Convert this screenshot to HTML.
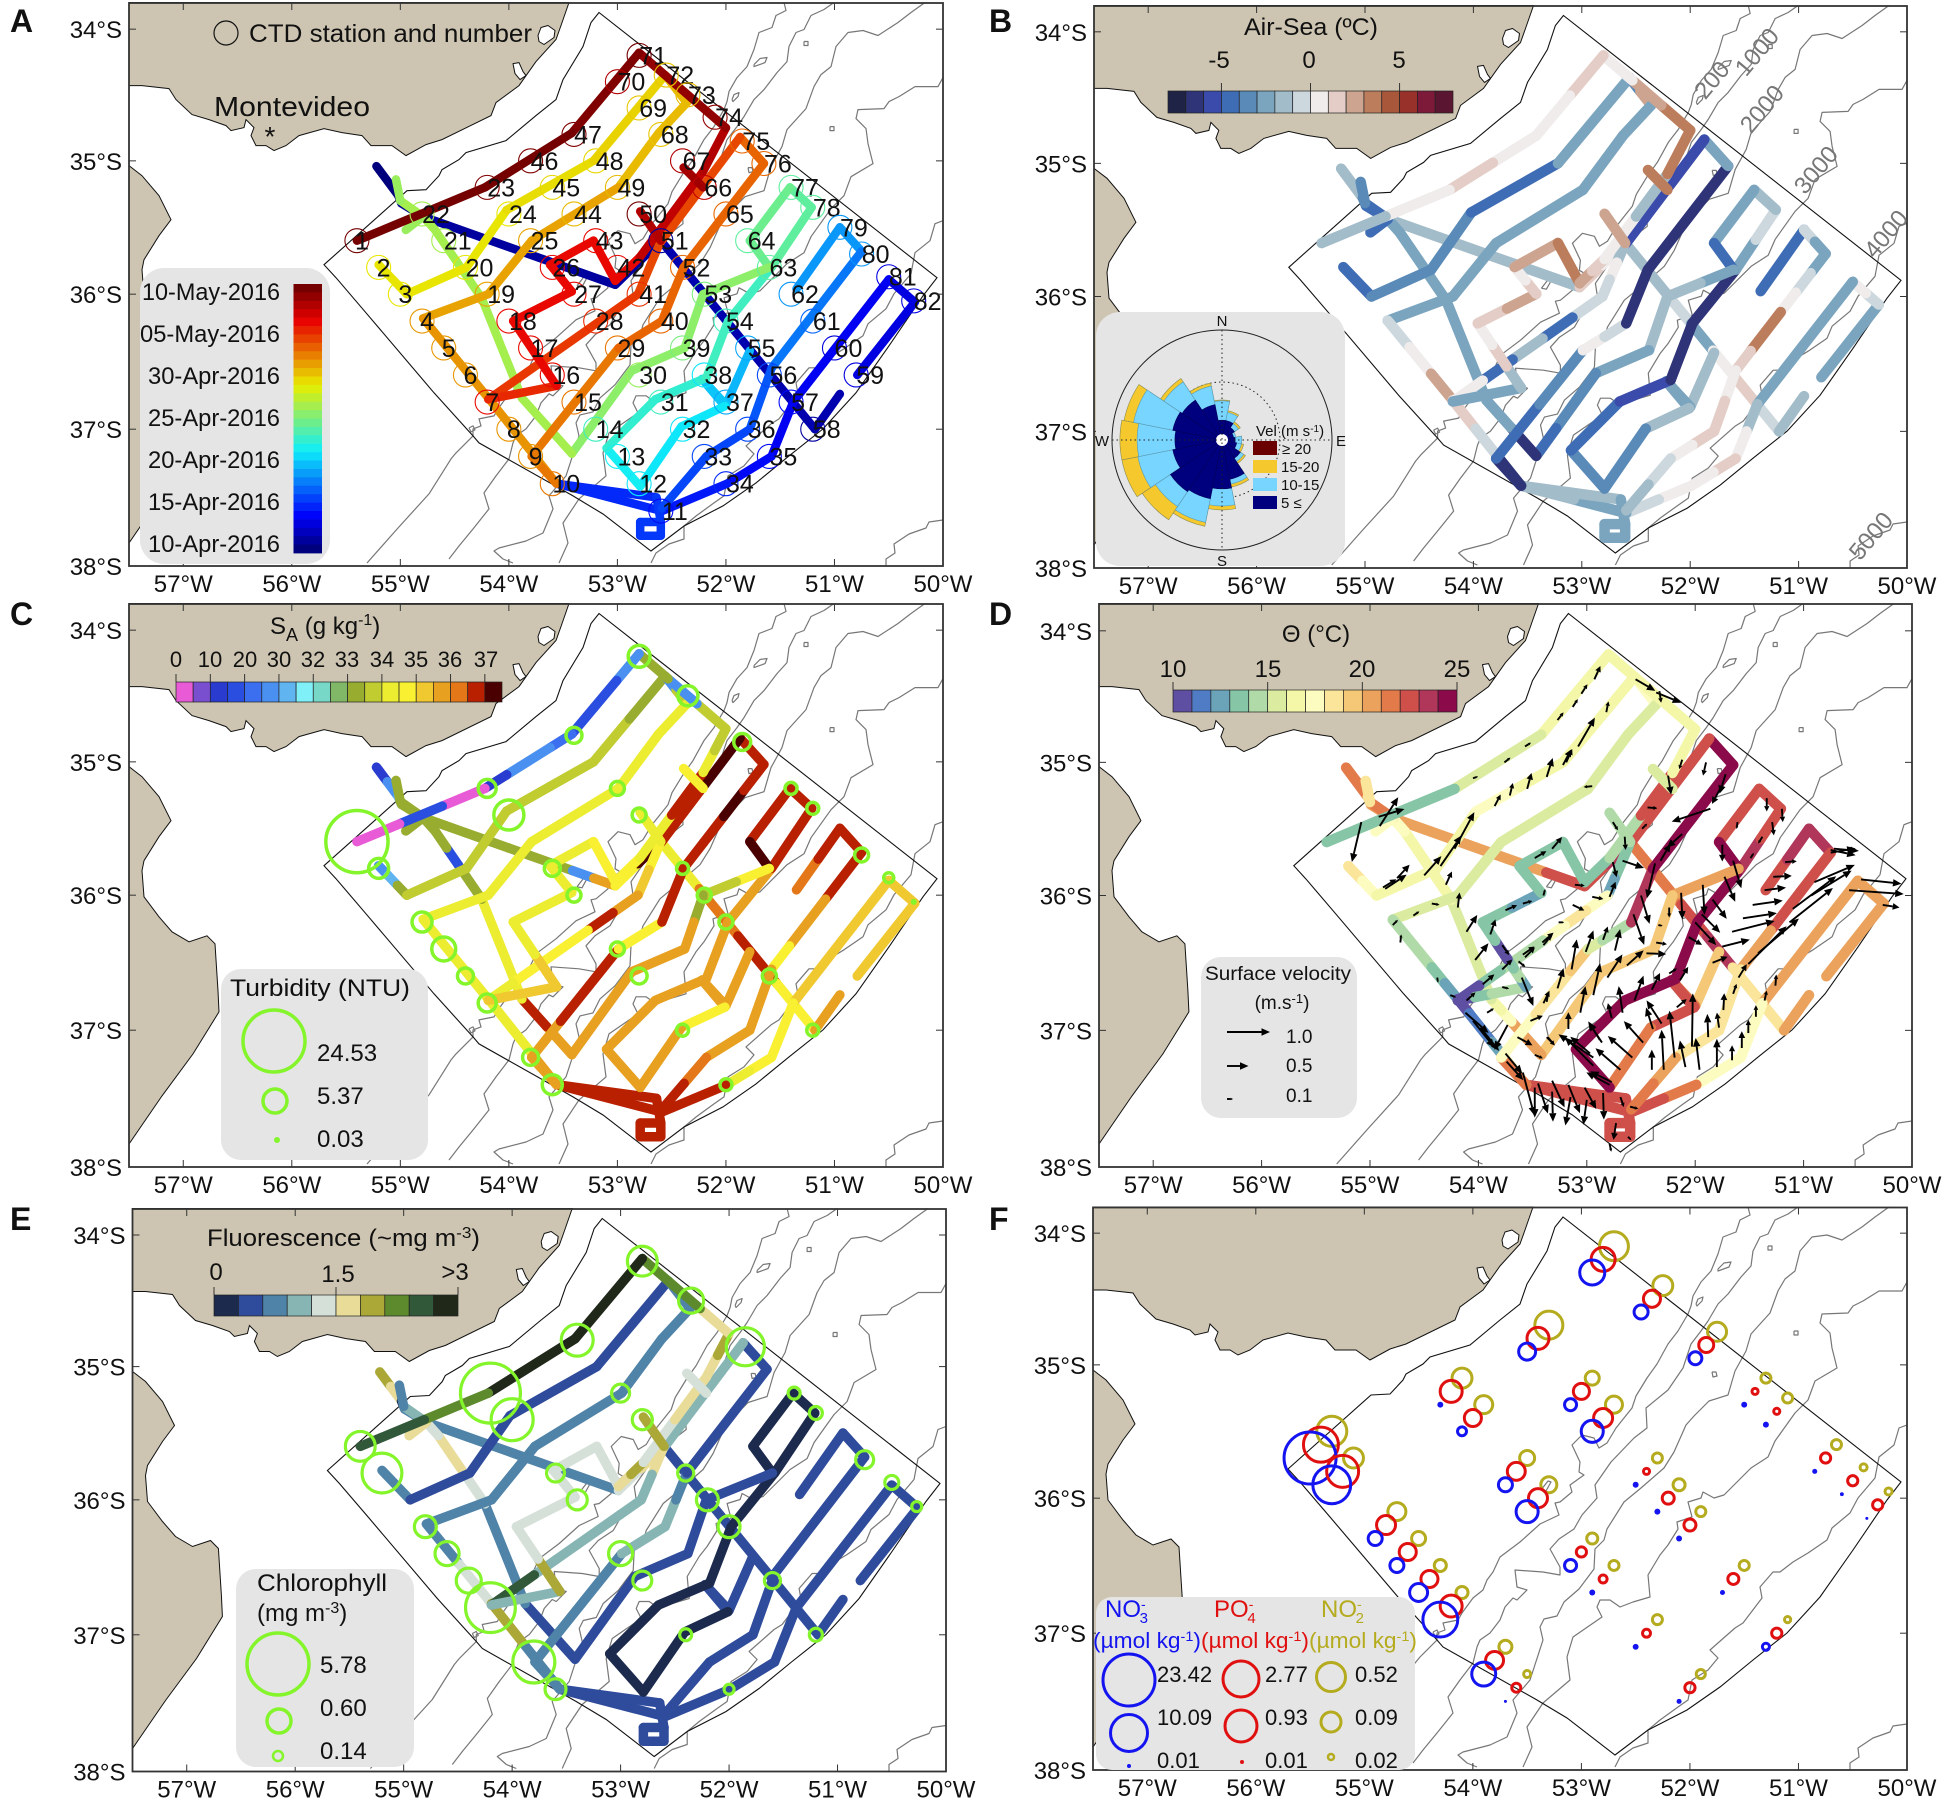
<!DOCTYPE html>
<html lang="en">
<head>
<meta charset="utf-8">
<title>Survey track maps</title>
<style>
html,body{margin:0;padding:0;background:#fff}
svg{display:block}
text{font-family:"Liberation Sans","DejaVu Sans",sans-serif;fill:#111}
</style>
</head>
<body>
<svg id="figure" xmlns="http://www.w3.org/2000/svg" width="1950" height="1801" viewBox="0 0 1950 1801">
<rect width="1950" height="1801" fill="#fff"/>
<g id="panels"></g>
<g id="overlay">

<g font-weight="bold" font-size="32">
<text x="10" y="32" font-weight="bold">A</text>
<text x="989" y="32" font-weight="bold">B</text>
<text x="10" y="625" font-weight="bold">C</text>
<text x="989" y="625" font-weight="bold">D</text>
<text x="10" y="1230" font-weight="bold">E</text>
<text x="989" y="1230" font-weight="bold">F</text>
</g>

<g>
<circle cx="226" cy="33" r="12" fill="none" stroke="#111" stroke-width="1.2"/>
<text x="249" y="42" font-size="25" textLength="283" lengthAdjust="spacingAndGlyphs">CTD station and number</text>
<text x="214" y="116" font-size="28" textLength="156" lengthAdjust="spacingAndGlyphs">Montevideo</text>
<text x="270" y="146" font-size="28" text-anchor="middle">*</text>
<rect x="140" y="268" width="190" height="296" rx="24" fill="#e5e5e5"/>
<g font-size="24" text-anchor="end">
<text x="280" y="300" textLength="138" lengthAdjust="spacingAndGlyphs">10-May-2016</text>
<text x="280" y="342" textLength="140" lengthAdjust="spacingAndGlyphs">05-May-2016</text>
<text x="280" y="384" textLength="132" lengthAdjust="spacingAndGlyphs">30-Apr-2016</text>
<text x="280" y="426" textLength="132" lengthAdjust="spacingAndGlyphs">25-Apr-2016</text>
<text x="280" y="468" textLength="132" lengthAdjust="spacingAndGlyphs">20-Apr-2016</text>
<text x="280" y="510" textLength="132" lengthAdjust="spacingAndGlyphs">15-Apr-2016</text>
<text x="280" y="552" textLength="132" lengthAdjust="spacingAndGlyphs">10-Apr-2016</text>
</g>
</g>

<g>
<text x="1311" y="35" font-size="24" text-anchor="middle" textLength="134" lengthAdjust="spacingAndGlyphs">Air-Sea (ºC)</text>
<g font-size="24" text-anchor="middle">
<text x="1219" y="68">-5</text>
<text x="1309" y="68">0</text>
<text x="1399" y="68">5</text>
</g>
<g font-size="24" text-anchor="middle">
<text x="1712" y="88" transform="rotate(-50 1712 80)" style="fill:#777">200</text>
<text x="1757" y="60" transform="rotate(-50 1757 52)" style="fill:#777">1000</text>
<text x="1762" y="117" transform="rotate(-50 1762 109)" style="fill:#777">2000</text>
<text x="1816" y="178" transform="rotate(-50 1816 170)" style="fill:#777">3000</text>
<text x="1886" y="242" transform="rotate(-50 1886 234)" style="fill:#777">4000</text>
<text x="1871" y="544" transform="rotate(-50 1871 536)" style="fill:#777">5000</text>
</g>
<rect x="1096" y="312" width="249" height="254" rx="24" fill="#e5e5e5"/>
<g id="rose"></g>
<g font-size="15" text-anchor="middle">
<text x="1222" y="326">N</text>
<text x="1222" y="566">S</text>
<text x="1102" y="446">W</text>
<text x="1341" y="446">E</text>
</g>
<g font-size="15">
<text x="1256" y="436">Vel (m s<tspan dy="-4" font-size="10">-1</tspan><tspan dy="4">)</tspan></text>
<rect x="1253" y="441" width="24" height="14" fill="#6b0000"/>
<rect x="1253" y="460" width="24" height="13" fill="#f5c92e"/>
<rect x="1253" y="478" width="24" height="13" fill="#78d5ff"/>
<rect x="1253" y="496" width="24" height="13" fill="#00007f"/>
<text x="1282" y="454">≥ 20</text>
<text x="1281" y="472">15-20</text>
<text x="1281" y="490">10-15</text>
<text x="1281" y="508">5 ≤</text>
</g>
</g>

<g>
<text x="270" y="634" font-size="24">S<tspan dy="7" font-size="18">A</tspan><tspan dy="-7"> (g kg</tspan><tspan dy="-9" font-size="16">-1</tspan><tspan dy="9">)</tspan></text>
<g font-size="22" text-anchor="middle">
<text x="176" y="667">0</text>
<text x="210" y="667">10</text>
<text x="245" y="667">20</text>
<text x="279" y="667">30</text>
<text x="313" y="667">32</text>
<text x="347" y="667">33</text>
<text x="382" y="667">34</text>
<text x="416" y="667">35</text>
<text x="450" y="667">36</text>
<text x="486" y="667">37</text>
</g>
<rect x="221" y="969" width="207" height="191" rx="20" fill="#e5e5e5"/>
<text x="320" y="996" font-size="24" text-anchor="middle" textLength="180" lengthAdjust="spacingAndGlyphs">Turbidity (NTU)</text>
<circle cx="274" cy="1041" r="31" fill="none" stroke="#84f52a" stroke-width="3.5"/>
<circle cx="275" cy="1101" r="12" fill="none" stroke="#84f52a" stroke-width="3.5"/>
<circle cx="277" cy="1140" r="3" fill="#84f52a"/>
<g font-size="24">
<text x="317" y="1061">24.53</text>
<text x="317" y="1104">5.37</text>
<text x="317" y="1147">0.03</text>
</g>
</g>

<g>
<text x="1316" y="642" font-size="24" text-anchor="middle">Θ (°C)</text>
<g font-size="24" text-anchor="middle">
<text x="1173" y="677">10</text>
<text x="1268" y="677">15</text>
<text x="1362" y="677">20</text>
<text x="1457" y="677">25</text>
</g>
<rect x="1201" y="957" width="156" height="161" rx="20" fill="#e5e5e5"/>
<text x="1278" y="980" font-size="19" text-anchor="middle" textLength="146" lengthAdjust="spacingAndGlyphs">Surface velocity</text>
<text x="1282" y="1009" font-size="19" text-anchor="middle">(m.s<tspan dy="-6" font-size="13">-1</tspan><tspan dy="6">)</tspan></text>
<g id="velocity-key"></g>
<g font-size="19">
<text x="1286" y="1043">1.0</text>
<text x="1286" y="1072">0.5</text>
<text x="1286" y="1102">0.1</text>
</g>
</g>

<g>
<text x="207" y="1246" font-size="24" textLength="273" lengthAdjust="spacingAndGlyphs">Fluorescence (~mg m<tspan dy="-8" font-size="16">-3</tspan><tspan dy="8">)</tspan></text>
<g font-size="24" text-anchor="middle">
<text x="216" y="1280">0</text>
<text x="338" y="1282">1.5</text>
<text x="455" y="1280">&gt;3</text>
</g>
<rect x="236" y="1569" width="178" height="198" rx="20" fill="#e5e5e5"/>
<text x="257" y="1591" font-size="24" textLength="130" lengthAdjust="spacingAndGlyphs">Chlorophyll</text>
<text x="257" y="1621" font-size="24">(mg m<tspan dy="-8" font-size="16">-3</tspan><tspan dy="8">)</tspan></text>
<circle cx="278" cy="1664" r="31" fill="none" stroke="#84f52a" stroke-width="3.5"/>
<circle cx="279" cy="1721" r="12" fill="none" stroke="#84f52a" stroke-width="3.5"/>
<circle cx="278" cy="1756" r="5" fill="none" stroke="#84f52a" stroke-width="2.5"/>
<g font-size="24">
<text x="320" y="1673">5.78</text>
<text x="320" y="1716">0.60</text>
<text x="320" y="1759">0.14</text>
</g>
</g>

<g>
<rect x="1096" y="1597" width="319" height="173" rx="16" fill="#e5e5e5"/>
<g>
<text x="1105" y="1617" font-size="24" style="fill:#1414f0">NO<tspan dy="-8" font-size="14">-</tspan><tspan dy="14" dx="-6" font-size="15">3</tspan></text>
<text x="1093" y="1648" font-size="22" textLength="108" lengthAdjust="spacingAndGlyphs" style="fill:#1414f0">(µmol kg<tspan dy="-7" font-size="14">-1</tspan><tspan dy="7">)</tspan></text>
<circle cx="1129" cy="1680" r="26" fill="none" stroke="#1414f0" stroke-width="3"/>
<circle cx="1129" cy="1733" r="18.5" fill="none" stroke="#1414f0" stroke-width="3"/>
<circle cx="1129" cy="1766" r="2" fill="#1414f0"/>
<text x="1157" y="1682" font-size="22">23.42</text>
<text x="1157" y="1725" font-size="22">10.09</text>
<text x="1157" y="1768" font-size="22">0.01</text>
</g>
<g>
<text x="1214" y="1617" font-size="24" style="fill:#e01010">PO<tspan dy="-8" font-size="14">-</tspan><tspan dy="14" dx="-6" font-size="15">4</tspan></text>
<text x="1201" y="1648" font-size="22" textLength="108" lengthAdjust="spacingAndGlyphs" style="fill:#e01010">(µmol kg<tspan dy="-7" font-size="14">-1</tspan><tspan dy="7">)</tspan></text>
<circle cx="1241" cy="1679" r="18" fill="none" stroke="#e01010" stroke-width="3"/>
<circle cx="1241" cy="1726" r="16" fill="none" stroke="#e01010" stroke-width="3"/>
<circle cx="1242" cy="1762" r="2" fill="#e01010"/>
<text x="1265" y="1682" font-size="22">2.77</text>
<text x="1265" y="1725" font-size="22">0.93</text>
<text x="1265" y="1768" font-size="22">0.01</text>
</g>
<g>
<text x="1321" y="1617" font-size="24" style="fill:#b5ab1e">NO<tspan dy="-8" font-size="14">-</tspan><tspan dy="14" dx="-6" font-size="15">2</tspan></text>
<text x="1309" y="1648" font-size="22" textLength="108" lengthAdjust="spacingAndGlyphs" style="fill:#b5ab1e">(µmol kg<tspan dy="-7" font-size="14">-1</tspan><tspan dy="7">)</tspan></text>
<circle cx="1331" cy="1677" r="14.5" fill="none" stroke="#b5ab1e" stroke-width="3"/>
<circle cx="1331" cy="1722" r="10" fill="none" stroke="#b5ab1e" stroke-width="3"/>
<circle cx="1331" cy="1757" r="3" fill="none" stroke="#b5ab1e" stroke-width="2.5"/>
<text x="1355" y="1682" font-size="22">0.52</text>
<text x="1355" y="1725" font-size="22">0.09</text>
<text x="1355" y="1768" font-size="22">0.02</text>
</g>
</g>
<g id="colorbars"></g>
</g>
</svg>

<script>
// ---------- survey data (degrees West / degrees South) ----------
const stationLon = [55.4,55.2,55,54.8,54.6,54.4,54.2,54,53.8,53.6,52.6,52.8,53,53.2,53.4,53.6,53.8,54,54.2,54.4,54.6,54.8,54.2,54,53.8,53.6,53.4,53.2,53,52.8,52.6,52.4,52.2,52,51.6,51.8,52,52.2,52.4,52.6,52.8,53,53.2,53.4,53.6,53.8,53.4,53.2,53,52.8,52.6,52.4,52.2,52,51.8,51.6,51.4,51.2,50.8,51,51.2,51.4,51.6,51.8,52,52.2,52.4,52.6,52.8,53,52.8,52.55,52.35,52.1,51.85,51.65,51.4,51.2,50.95,50.75,50.5,50.27];
const stationLat = [35.6,35.8,36,36.2,36.4,36.6,36.8,37,37.2,37.4,37.6,37.4,37.2,37,36.8,36.6,36.4,36.2,36,35.8,35.6,35.4,35.2,35.4,35.6,35.8,36,36.2,36.4,36.6,36.8,37,37.2,37.4,37.2,37,36.8,36.6,36.4,36.2,36,35.8,35.6,35.4,35.2,35,34.8,35,35.2,35.4,35.6,35.8,36,36.2,36.4,36.6,36.8,37,36.6,36.4,36.2,36,35.8,35.6,35.4,35.2,35,34.8,34.6,34.4,34.2,34.35,34.5,34.67,34.85,35.02,35.2,35.35,35.5,35.7,35.87,36.05];
const stationDay = [30,19,19,21.5,21.5,21.5,26,21.6,21.6,22.5,4,11,11.5,13,22.5,26,26,26,21.1,19,16.4,16.4,29.6,19,21.1,26,26,25,22.5,16,13,11,6,5,4,6,9,11,15,23,24.7,26,26,20.4,19.5,29.6,29.6,19.5,20.4,30,1,23,15,13,9,6,4,1,3,3,7,8.5,14,14,23,27.5,28,20,20,28,30,20,20.4,29,23,23,14,14,8.5,8.5,3,3];

const trackLegs = [
 [[55.22,35.04],[55.02,35.26],[54.99,35.32],[54.79,35.42],[53.02,35.93],[52.6,35.6],[51.18,37],[50.95,36.74]],
 [[50.79,36.6],[50.26,36.06],[50.5,35.89],[51.38,36.8],[51.58,37.2],[51.99,37.4],[52.59,37.6],[53.56,37.4],[52.64,37.5],[52.6,37.68],[52.6,37.78],[52.79,37.78],[52.79,37.68],[52.6,37.68]],
 [[51.35,35.96],[50.95,35.5],[50.75,35.68],[51.58,36.55],[51.78,37],[52.18,37.2],[52.59,37.58]],
 [[51.78,36.42],[52,36.82],[52.22,36.63],[52.01,36.83],[52.41,36.98],[52.79,37.42],[53.1,37.14],[52.65,36.78],[52.18,36.62],[51.98,36.2],[51.58,35.8],[51.21,35.35],[51.41,35.2]],
 [[51.41,35.2],[51.78,35.6],[51.6,35.8],[52.21,36],[52.38,36.4],[52.87,36.57],[53.42,37.18],[53.88,36.77],[54.25,36.03],[54.68,35.52],[54.79,35.42],[55,35.3],[55.04,35.14]],
 [[54.79,35.42],[54.95,35.52]],
 [[55.2,35.78],[54.94,36],[54.39,35.8],[54.02,35.37],[53.22,35],[52.56,34.35],[52.36,34.56],[52.62,34.79],[52.99,35.2],[53.79,35.6],[54.19,36],[54.79,36.18],[54.19,36.77],[53.56,37.4],[53.79,37.2],[52.99,36.4],[52.59,36.2],[52.39,35.8],[51.65,35.02],[51.87,34.82]],
 [[51.87,34.82],[52.61,35.62],[52.81,36],[54.19,36.78],[53.56,36.68],[53.96,36.2],[53.42,35.98],[53.62,35.78],[53.22,35.6],[53.02,35.9],[52.79,35.72],[52.21,35.08],[52,34.75],[52.8,34.18],[53.42,34.79],[54.22,35.2],[55.4,35.6]],
 [[52.79,35.38],[52.6,35.6]],
 [[52.39,35.05],[52.21,35.2]]
];

const dayValues = [
 [0,0,0.5,1,1,1.5,1.5],
 [3,3,3.5,3.5,4,4.5,5,5,5.5,5.5,5.5,5.5,5.5],
 [8.5,8.5,7.5,6.5,6,6],
 [9.5,10,10,11,11,11.5,12.5,12.5,13,13,14,14],
 [14.5,14.5,15.6,15.6,15.6,15.6,16.4,16.4,16.4,16.4,16.4,16],
 [16],
 [19,19,19,19.3,19.6,20.4,20.4,20.4,21.1,21.1,21.1,21.6,21.6,22.5,22.5,23.1,23.1,23.1,23.1],
 [24,24,24.5,25,26,26,26,26,26,26,27.5,28,29,29.6,30,30],
 [28],
 [28.5]
];
const airSeaValues = [
 [-1.5,-4,-4.5,-2,[1.5,0.5],[-1.5,-2,-1,-3,0.5,1.5,-0.5],-2],
 [-2.5,[-1,0],-2.5,[-1.5,0],[1.5,0.5],[0,-1],[-2.5,-2],-2,-2.8,-2.8,-2.8,-2.8,-2.8],
 [-5,[-1,-2.5],[-2.5,-1,0,3,3,1],[0,1],[1,0.8],[-0.5,-1.5]],
 [-2,-2.8,-2.8,-2,-4,-4,-5,-6,-7,-7,[-2.5,-1],-2],
 [-2.5,-4.5,[-2.5,-1.5],-1.5,-2.5,[-3.5,-4,-5],[-7,-3],-3,-3,-3,-4.5,-4],
 [-4.5],
 [-5,-4,-4,-4.5,-3,[-4,2],-2.5,-2.8,-2.8,-2.5,-2.5,[-1,0,2.5],[1.5,-1,-7],-7,[-5,-4],[0,-1],-7,-7,-3],
 [-6,[-2,0,-1],[-1,-5,-2,-5,0],-2.5,[-2,1.5,0],[1,2],[1,0],2,3,[2,1],[0,-1.5],[3,3],[3,2,0],[1,0.5],[0.5,1],[0,-1.5]],
 [2],
 [3,1]
];
const salinityValues = [
 [[13,27],30,33.2,[33.2,33.2,33.2,33.2,33.2,33.2,33.2,25,35.7],[34.6,37],[34.2,36.2,36.8,34.6],35.5],
 [35.4,35.2,35.3,34.7,[34.6,34.3],[36.7,36.9],36.8,36.7,36.9,36.9,36.9,36.9,36.9],
 [[36.2,36.8],36.9,[36.8,36.8,35.7,35.7,34.9],35.7,35.6,[36.3,36.9]],
 [35.6,35.9,35.9,34.9,35.6,35.6,35.6,35.7,35.7,35.7,36.8,36.8],
 [36.8,37.4,[34.5,33.6],[33.4,35.8],35.6,35.8,[35.7,36.8],34.2,[33.3,33.3,15,33.3],33.2,33.2,33.2],
 [33.2],
 [[27,30,33],33.8,33.8,[33.6,33.8],[33.7,33.3],[27,33.5],34.2,34.2,34.1,34.1,34.1,34.1,[34.2,34.1,35.8],35.8,[35.7,36.9,36.9],34.6,36.9,[36.8,36.9,37.1,36.9],36.9],
 [[37,36.9],[34.6,35],[35.7,36.9,34.6,34.6,34.5,34.3],35.3,[35,34.2],34.2,34.1,34.1,34.5,34.5,[34.4,36.9],[34.2,33.9],[33.5,25,33.2],[28.5,15,15],[24,29,25,12],[1,15,1]],
 [34],
 [34.6,35]
];
const thetaValues = [
 [21.5,18,20,[20.5,20.5,20.5,20.5,22],[22,23],[21.5,21.5,22,23,18,18],20.5],
 [20.5,20,20.5,17,17,[21,22],22.5,22.5,22.6,22.6,22.6,22.6,22.6],
 [[22.5,23],23.5,[22,22,20],18,18,[20,21]],
 [19,21.7,22,22,21.5,24.5,24.6,24.5,24.5,24.5,[23,22.5],22.5],
 [22.5,24.5,20,[19,19.5],19.5,19.5,[20.5,20.5,20.5,17,16],15,16,17,21,18],
 [17],
 [[18,17],16,16.5,[17,16.5],16.5,17,15.5,15.5,15.5,15.5,15,[14.5,14.5,14,13,12],[10,11,11,12,17,17],21,[17,17,18,18,19],[15,14.5,14.5],23.5,[24,24.5],24],
 [[22.5,22],[13.5,13,12],[17.5,18,17,14,14,13.5,10],[10,13.5,14,14],[12.5,14,13,10,10,13,13],[13,13,12.5,12],13.5,13,13.5,13.5,[14,22],16,16,16,[15.5,15],13.5],
 [14],
 [15]
];
const fluorValues = [
 [[1.8,1.5],0.1,0.8,0.7,[1.2,1.7],0.4,0.4],
 [0.4,0.4,0.4,0.4,0.4,0.4,0.4,0.4,0.4,0.4,0.4,0.4,0.4],
 [0.4,0.4,0.4,0.4,0.4,0.4],
 [0.4,0.4,0.4,0.2,0.1,0.1,0.1,0.1,0.2,0.2,0.1,0.1],
 [0.1,0.1,0.4,0.4,0.4,0.4,0.4,0.7,[1.3,1.5],1.2,0.9,0.8],
 [1.7],
 [0.6,0.4,0.4,0.5,0.5,0.7,0.7,0.7,0.7,0.7,0.7,[0.7,1.2],[2,0.7],0.7,0.7,1,[1,0.8],0.4,0.5],
 [[1,1],[1.5,1],[0.9,1,1,1,1,2.4,2.4],[1,0.9],[1.8,1.4],1.3,1.3,1.3,1.3,[1.6,1.9],[1.3,1.5],[1.6,2],[1.6,2.1,2.2],3,3,[2.3,2.4]],
 [1.9],
 [1.3,1.5]
];

// samples taken at a subset of CTD stations
const sampledStations = [71,73,47,75,23,49,24,50,1,2,26,27,80,81,82,53,54,52,77,78,4,5,6,7,9,10,29,30,56,32,58,34];
const turbidity = [4.3,3.7,2.55,2.8,3.1,2.04,7.3,2.04,24.53,3.7,2.55,2.04,2.04,1.17,0.03,2.04,2.04,1.58,1.58,1.58,3.7,5,2.55,3.1,2.55,3.7,2.04,2.55,2.04,1.58,1.58,1.58];
const chlorophyll = [1,0.66,1.18,1.8,5.3,0.3,2.27,0.39,1,2,0.3,0.39,0.3,0.165,0.074,0.48,0.48,0.23,0.115,0.14,0.48,0.6,0.66,3.4,2.27,0.43,0.6,0.34,0.23,0.115,0.14,0.074];
const nitrate = [3.6,0.81,1.33,0.67,0.09,0.55,0.26,2.6,23.42,10.4,0.81,2.6,0.06,0.03,0.01,0.09,0.09,0.09,0.09,0.09,0.81,0.81,1.54,8.4,3.2,0.01,0.55,0.09,0.06,0.09,0.14,0.06];
const phosphate = [0.87,0.28,0.65,0.18,0.65,0.23,0.28,0.4,3.06,2.27,0.33,0.4,0.05,0.05,0.05,0.087,0.087,0.009,0.009,0.009,0.4,0.28,0.28,0.65,0.33,0.033,0.05,0.022,0.065,0.022,0.05,0.05];
const nitrite = [0.52,0.15,0.47,0.128,0.15,0.046,0.107,0.089,0.59,0.15,0.058,0.072,0.015,0.0046,0.0046,0.028,0.015,0.015,0.015,0.015,0.107,0.046,0.028,0.028,0.036,0.0046,0.021,0.015,0.015,0.015,0.003,0.011];

// surface velocity: [lon W, lat S, u east m/s, v north m/s]
const velocityRows = [
[52.93,34.37,.14,.31],[53.05,34.48,.14,.22],[53.13,34.58,.12,.18],[53.27,34.68,.14,.18],[53.57,34.88,.14,.09],[53.76,35,.14,.11],[54.05,35.12,.12,.04],
[52.36,34.47,.58,-.24],[52.55,34.37,.46,-.27],[52.33,34.46,.04,-.27],[52.82,34.62,.05,.25],[53.08,34.88,.39,.67],[53.19,35,.14,.31],[53.22,35.02,.19,.36],[53.37,35.11,.14,.44],[53.55,35.2,.1,.37],[53.71,35.25,.07,.29],[53.85,35.33,.14,.27],
[54.22,35.65,.46,.85],[54.35,35.78,.49,.71],[54.5,35.85,.4,.45],[54.86,35.95,.5,.33],[54.75,35.87,.29,.31],[54.3,35.92,.14,.31],[55.08,35.45,-.22,-.93],[54.91,35.48,.43,.67],[54.92,35.41,.6,.18],
[52.25,35.1,.07,-.44],[52.12,34.98,-.07,-.22],[51.9,35,-.07,-.31],[51.72,35.09,-.14,-.45],[52.95,35.18,-.2,-.02],
[50.72,35.65,.58,-.05],[50.75,35.66,.58,-.12],[50.75,35.68,.58,.1],
[50.9,35.9,.94,.4],[50.93,36,.94,.58],[51.1,36.1,1.01,.76],[51.13,36.2,1.01,.8],[50.47,35.88,.94,-.1],[50.58,35.96,1.27,-.09],[50.27,36.07,.39,-.06],
[51.47,36.07,.7,.1],[51.56,36.17,.79,.12],[51.66,36.27,.99,.25],[51.75,36.38,.64,.16],[51.36,35.96,.5,.06],[51.28,35.86,.43,.02],[51.17,35.75,.27,.02],
[51.86,35.35,-.9,-.3],[52.67,35.74,.5,-.17],[52.57,36.14,.25,-.71],[52.5,36,.2,-.66],[52.37,35.76,-.19,-.81],[52.13,35.98,.03,-.62],[51.93,35.92,.04,-.7],[51.84,36.03,.33,-.45],[52,36.2,.49,-.53],[51.94,36.14,.43,-.43],[51.73,35.86,.25,-.58],[51.65,35.74,.19,-.64],[51.75,35.62,0,-.39],[52.06,36.31,.31,-.18],[52.45,36.43,.46,-.02],[52.36,36.35,.25,-.04],[52.34,36.22,.1,-.02],[52.24,36.09,0,-.23],[51.84,36.5,.35,.14],[51.51,36.51,.89,.88],[51.42,36.43,.95,.81],
[51.6,36.61,.19,.31],[51.65,36.73,.08,.23],[51.74,36.85,.02,.39],[51.78,36.98,-.05,.35],[51.88,37.05,-.02,.54],[51.44,36.9,0,.27],[51.36,36.78,.05,.23],[51.26,36.67,.02,.26],[51.51,37.02,0,.31],[51.57,37.13,0,.39],[51.66,37.22,0,.35],[51.8,37.27,0,.66],[51.96,37.29,-.09,.74],[52.09,37.27,-.13,.62],[52.19,37.2,-.12,1.09],[52.03,37.12,.02,1.24],[52.29,37.29,-.05,.93],[52.4,37.29,0,.47],[52.39,36.99,-.16,.5],[52.31,36.95,-.35,.54],[52.56,36.78,.21,.58],[52.4,36.7,.19,.39],
[52.67,36.87,-.09,.62],[52.77,36.91,-.09,.35],[52.88,37.07,-.27,.43],[52.48,37.09,-.45,.5],[52.58,37.2,-.57,.5],[52.69,37.29,-.58,.5],[53.06,36.87,.12,.62],[52.94,36.74,.16,.74],[52.81,36.61,.35,.54],[52.63,36.52,.39,.35],[53.14,36.55,.12,.7],[53.27,36.69,.14,.47],[53.4,36.8,.14,.29],[53.01,36.42,.18,.5],[52.85,36.33,.11,.31],[52.74,36.41,.12,.5],[53.17,36.99,0,.39],[53.52,36.93,.29,.12],[53.36,37.05,.16,-.19],[53.13,36.07,.27,-.13],[52.95,36.01,.26,-.05],[53.26,36.2,.13,0],[53.41,36.35,.26,.23],[52.79,36.01,.14,.35],[52.76,35.75,.09,-.35],[53.11,35.92,.23,-.02],[52.65,35.56,.02,-.31],[52.49,35.5,.12,.12],[52.44,35.34,.23,-.02],[52.12,35.54,-.35,-.31],[52.32,35.74,.23,.39],[51.77,35.2,-.19,-.35],[51.34,35.27,0,-.31],[51.2,35.35,.02,-.31],[51.29,35.45,.04,-.31],[51.38,35.56,-.1,-.16],[51.49,35.72,.08,.12],[51.61,35.45,-.02,-.16],[52.76,35.45,.12,-.19],[53.48,35.72,.27,.16],[53.32,35.65,.23,.27],[53.6,36.61,.27,-.66],[53.57,36.46,.23,.23],[52.24,36.58,.18,.12],[52.14,36.63,.19,.31],[52.17,36.83,.23,.19],
[53.48,37.42,0,-.7],[53.59,37.31,.27,-1],[53.45,37.39,.23,-.7],[53.32,37.45,.02,-.7],[53.32,37.37,.29,-.62],[53.15,37.49,-.12,-.66],[53.17,37.4,.27,-.66],[53,37.51,-.08,-.58],[53.02,37.42,.27,-.5],[52.85,37.46,.02,-.62],[52.69,37.49,.08,-.23],[52.73,37.68,-.06,-.39],[52.79,37.83,.04,-.19],[52.62,37.78,.08,-.08],[52.6,37.56,.19,-.05],[53.74,37.23,.39,-.43],[53.75,37.17,.39,-.47],[53.73,36.96,-.31,-.58],[53.64,37.05,.35,-.19],[53.48,37.18,.19,-.08],[53.37,37.05,.19,-.19],[52.94,37.2,-.81,.54],[52.94,37.26,-.66,.66],[52.97,37.17,-.46,.39],[52.79,37.4,-.54,.29],[52.77,37.38,-.5,.25],[52.86,37.09,-.31,.47],[53.37,36.79,.04,.23],
[53.63,36.49,.16,-.13],[53.78,36.55,.23,.23],[53.59,36.44,.27,.19],[53.4,36.37,.19,.23],[53.92,36.87,.16,.1],[53.78,36.68,.16,-.04],[53.96,36.66,.27,.23],[54.11,36.78,.21,.19],[54.38,36.61,.02,-.12],[54.26,36.74,.14,-.05],[54.03,36.48,.31,.39],[54.11,36.27,.25,.39],[53.89,36.29,.12,.35],[53.78,36.37,.16,-.23],[54.72,36.35,.02,.19],[54.79,36.22,.12,.12],[54.6,36.15,.14,.1],[54.43,36.06,.18,-.03],[54.19,36.09,.04,.35],[53.75,36.11,.27,.12],[53.59,36.06,.22,.06],[53.4,36,.04,.15],[54.88,35.94,.31,.19],[54.12,36.87,.54,-.47],[54.05,36.93,.5,-.62],[53.98,36.98,.43,-.54]
];

// wind rose percentages by direction, clockwise from north
const roseBelow5 = [4.5,4.5,3.4,2.7,3,3.4,5,9.1,11.1,13.6,14.1,11.4,10.7,11.4,10.9,8.2];
const roseTo15 = [8.9,6.4,4.5,3.2,4.5,4.5,5.9,10.2,15,19.1,18.2,19.5,19.3,20.5,15.9,12.5];
const roseTo20 = [9.1,6.8,5,3.2,4.5,5,6.4,10.9,15.9,20,21.8,23.2,23.2,22.7,16.8,13.2];

// ---------- colour scales ----------
const airSeaColors = ['#1f2447','#2f3478','#3a4bab','#3f6db5','#5a8ab8','#7ba5bf','#a3bcc9','#ccd8de','#f0ecec','#e3cdc6','#cda48f','#bc7d5c','#a8573a','#97312a','#7d1a3a','#5a1630'];
const salinityColors = ['#e85ad6','#7a4fcf','#2a3ccf','#2a4ee0','#3c6ef0','#4a90f0','#60b4f0','#80f0f8','#78d8c8','#80b868','#98ac30','#c0cc30','#ecec30','#f8f030','#f0c830','#e8a020','#e47818','#b82000','#4a0000'];
const salinityBreaks = [0,5,10,15,20,25,30,31,32,32.5,33,33.5,34,34.5,35,35.5,36,36.5,37];
const thetaColors = ['#5e4fa2','#4f7cc4','#6ba4b8','#86c5a6','#b0dba8','#dbeca0','#f4f7a8','#fdfcc0','#fae59a','#f5c878','#eba25c','#e37a4a','#cf4f4a','#b0365a','#8a0a4a'];
const fluorColors = ['#1c2a4e','#2f4b9c','#4f83a8','#86b5b4','#d5e0d8','#e8dc98','#aca838','#5e8a2e','#32583a','#20281a'];

function clamp01(v){return Math.max(0,Math.min(1,v));}
function jetColor(day){
  const t=day/30;
  const r=clamp01(1.5-Math.abs(4*t-3)),g=clamp01(1.5-Math.abs(4*t-2)),b=clamp01(1.5-Math.abs(4*t-1));
  return 'rgb('+Math.round(r*232+g*(1-r)*14)+','+Math.round(g*238)+','+Math.round(b*250)+')';
}
function airSeaColor(v){return airSeaColors[Math.max(0,Math.min(15,Math.floor(v+8)))];}
function salinityColor(v){let i=0;for(let k=0;k<salinityBreaks.length;k++){if(v>=salinityBreaks[k])i=k;}return salinityColors[i];}
function thetaColor(v){return thetaColors[Math.max(0,Math.min(14,Math.floor(v-10)))];}
function fluorColor(v){return fluorColors[Math.max(0,Math.min(9,Math.floor(v/0.3)))];}

// ---------- base map, in page pixels of panel F; rescaled per panel ----------
const landNorth = [[1093,1207],[1533,1207],[1525,1230],[1520,1244],[1500,1266],[1483,1290],[1460,1307],[1455,1320],[1406,1344],[1390,1349],[1370,1360],[1356,1350],[1335,1350],[1326,1340],[1306,1337],[1288,1333],[1263,1340],[1250,1350],[1238,1355],[1230,1350],[1220,1350],[1215,1340],[1218,1332],[1210,1324],[1208,1332],[1195,1335],[1190,1330],[1173,1324],[1156,1319],[1140,1304],[1133,1293],[1106,1290],[1093,1290]];
const landWest = [[1093,1370],[1106,1380],[1123,1400],[1135,1424],[1123,1440],[1108,1464],[1106,1474],[1108,1500],[1123,1520],[1136,1535],[1153,1545],[1171,1539],[1179,1547],[1182,1594],[1183,1615],[1157,1657],[1126,1699],[1093,1747]];
const surveyArea = [[1288,1469],[1371,1395],[1390,1394],[1403,1380],[1406,1374],[1423,1364],[1430,1357],[1470,1345],[1500,1320],[1520,1304],[1527,1284],[1547,1251],[1555,1227],[1563,1217],[1901,1482],[1887,1500],[1853,1550],[1820,1597],[1787,1633],[1753,1660],[1720,1687],[1687,1710],[1648,1730],[1615,1755],[1567,1718],[1537,1700],[1443,1647],[1437,1640],[1398,1597],[1330,1517],[1300,1482]];
const islands = [[[1502,1240],[1505,1232],[1512,1230],[1519,1235],[1518,1242],[1508,1249],[1503,1246]],[[1477,1268],[1483,1267],[1487,1276],[1490,1280],[1484,1284],[1479,1278]]];
const isobaths = [
 [[1748,1207],[1750,1215],[1740,1220],[1736,1232],[1723,1237],[1718,1254],[1711,1271],[1701,1282],[1693,1296],[1691,1306],[1688,1314],[1678,1331],[1668,1344],[1657,1364],[1647,1378],[1636,1396],[1632,1408],[1624,1418],[1616,1428],[1607,1443],[1599,1448],[1594,1438],[1582,1435],[1572,1445],[1580,1462],[1579,1472],[1584,1475],[1570,1485],[1572,1492],[1560,1502],[1555,1503],[1559,1515],[1540,1524],[1520,1542],[1500,1557],[1493,1572],[1487,1580],[1483,1590],[1473,1598],[1462,1613],[1458,1620],[1443,1623],[1445,1630],[1437,1633],[1437,1640],[1420,1657],[1415,1663],[1393,1698],[1362,1732],[1331,1767]],
 [[1798,1207],[1788,1214],[1775,1220],[1768,1234],[1760,1237],[1753,1251],[1751,1266],[1741,1277],[1728,1294],[1718,1304],[1708,1321],[1701,1331],[1691,1344],[1683,1368],[1668,1390],[1646,1408],[1647,1428],[1634,1438],[1611,1462],[1595,1485],[1597,1498],[1582,1515],[1574,1529],[1559,1539],[1550,1549],[1560,1567],[1560,1575],[1543,1572],[1515,1570],[1517,1587],[1527,1590],[1517,1600],[1513,1598],[1505,1607],[1500,1620],[1490,1633],[1480,1640],[1477,1647],[1473,1663],[1460,1680],[1448,1697],[1453,1713],[1437,1733],[1423,1750],[1413,1763]],
 [[1889,1207],[1875,1217],[1862,1227],[1842,1240],[1827,1235],[1812,1237],[1800,1251],[1795,1271],[1785,1279],[1778,1291],[1770,1313],[1751,1334],[1746,1351],[1735,1371],[1728,1395],[1709,1401],[1694,1416],[1686,1425],[1674,1452],[1664,1468],[1641,1488],[1624,1502],[1607,1529],[1604,1540],[1595,1549],[1594,1569],[1579,1589],[1564,1602],[1557,1616],[1544,1619],[1540,1627],[1543,1640],[1530,1680],[1513,1700],[1517,1713],[1507,1737],[1490,1745],[1463,1752],[1458,1755],[1467,1763],[1477,1767]],
 [[1907,1282],[1902,1291],[1879,1291],[1863,1301],[1853,1306],[1848,1313],[1822,1314],[1820,1323],[1830,1333],[1832,1348],[1837,1368],[1815,1381],[1808,1400],[1795,1413],[1775,1441],[1768,1457],[1751,1468],[1724,1495],[1714,1498],[1703,1492],[1701,1498],[1688,1502],[1692,1517],[1677,1522],[1678,1529],[1668,1545],[1660,1555],[1648,1575],[1650,1597],[1633,1602],[1620,1607],[1610,1600],[1600,1600],[1597,1607],[1602,1617],[1573,1637],[1567,1657],[1570,1680],[1543,1703],[1527,1727],[1532,1747],[1523,1767]],
 [[1907,1425],[1899,1428],[1894,1445],[1879,1457],[1875,1478],[1858,1498],[1850,1513],[1832,1528],[1827,1540],[1808,1553],[1793,1562],[1780,1572],[1773,1572],[1760,1587],[1762,1598],[1743,1623],[1735,1628],[1710,1650],[1718,1658],[1708,1670],[1692,1680],[1688,1700],[1678,1707],[1660,1720],[1648,1730],[1648,1743],[1633,1748],[1620,1757],[1615,1767]],
 [[1907,1724],[1893,1726],[1890,1732],[1873,1738],[1858,1748],[1859,1757],[1850,1763],[1850,1770]],
 [[1768,1246],[1772,1246],[1772,1250],[1768,1250],[1768,1246]],[[1794,1331],[1798,1331],[1798,1335],[1794,1335],[1794,1331]],[[1712,1372],[1716,1372],[1717,1376],[1713,1377],[1712,1372]],
 [[1718,1269],[1724,1263],[1731,1262],[1729,1267],[1718,1271],[1718,1269]],[[1696,1304],[1698,1299],[1703,1297],[1702,1301],[1697,1306],[1696,1304]],
 [[1541,1490],[1548,1481],[1551,1482],[1546,1491],[1541,1490]],[[1433,1632],[1437,1630],[1439,1634],[1435,1636],[1433,1632]]
];

const lonTicks = [57,56,55,54,53,52,51,50];
const latTicks = [34,35,36,37,38];
const panelBoxes = {
 a:{l:129,t:3,r:943,b:566}, b:{l:1094,t:6,r:1907,b:568},
 c:{l:129,t:604,r:943,b:1167}, d:{l:1099,t:604,r:1912,b:1167},
 e:{l:132.5,t:1209,r:946,b:1771.5}, f:{l:1093,t:1207.5,r:1907,b:1770}
};

// ---------- helpers ----------
const SVGNS='http://www.w3.org/2000/svg';
function make(parent,tag,props){
  const n=document.createElementNS(SVGNS,tag);
  for(const k in props){n.setAttribute(k,props[k]);}
  parent.appendChild(n);
  return n;
}
function merc(lat){const p=lat*Math.PI/180;return Math.log(Math.tan(Math.PI/4+p/2));}
function axisX(box,lon){return box.r-(lon-50)*(box.r-box.l)/7.5;}
function axisY(box,lat){const k=(box.r-box.l)/7.5*180/Math.PI;return box.b-k*(merc(38)-merc(lat));}
function refPoints(box,pts){
  const sx=(box.r-box.l)/814,sy=(box.b-box.t)/562.5;
  return pts.map(p=>(box.l+(p[0]-1093)*sx).toFixed(1)+','+(box.t+(p[1]-1207.5)*sy).toFixed(1)).join(' ');
}

function drawBase(g,box,pid){
  make(g,'rect',{x:box.l,y:box.t,width:box.r-box.l,height:box.b-box.t,fill:'#fff'});
  const north=make(g,'polygon',{points:refPoints(box,landNorth),fill:'#cdc5b1',stroke:'#111','stroke-width':1});
  
  
  const west=make(g,'polygon',{points:refPoints(box,landWest),fill:'#cdc5b1',stroke:'#111','stroke-width':1});
  
  
  islands.forEach(pts=>{
    const isl=make(g,'polygon',{points:refPoints(box,pts),fill:'#fff',stroke:'#111','stroke-width':1,'stroke-linejoin':'round'});
    
    
  });
  isobaths.forEach(pts=>{
    const c=make(g,'polyline',{points:refPoints(box,pts),fill:'none',stroke:'#777','stroke-width':1.2,'stroke-linejoin':'round'});
    
    
  });
  const survey=make(g,'polygon',{points:refPoints(box,surveyArea),fill:'none',stroke:'#111','stroke-width':1.1});
  
  
}

function drawTrack(g,box,values,colorOf,width){
  trackLegs.forEach((leg,li)=>{
    for(let s=0;s<leg.length-1;s++){
      const raw=values[li][s];
      const parts=Array.isArray(raw)?raw:[raw];
      const x0=axisX(box,leg[s][0]),y0=axisY(box,leg[s][1]),x1=axisX(box,leg[s+1][0]),y1=axisY(box,leg[s+1][1]);
      parts.forEach((v,pi)=>{
        const a=pi/parts.length,b=(pi+1)/parts.length;
        const seg=make(g,'line',{x1:x0+(x1-x0)*a,y1:y0+(y1-y0)*a,x2:x0+(x1-x0)*b,y2:y0+(y1-y0)*b,stroke:colorOf(v),'stroke-width':width,'stroke-linecap':'round'});
        
        
      });
    }
  });
}

function drawFrame(g,box){
  const frame=make(g,'rect',{x:box.l,y:box.t,width:box.r-box.l,height:box.b-box.t,fill:'none',stroke:'#333','stroke-width':1.8});
  
  
  lonTicks.forEach(lon=>{
    const x=axisX(box,lon);
    [[box.b,box.b-7],[box.t,box.t+7]].forEach(p=>{
      const t=make(g,'line',{x1:x,x2:x,y1:p[0],y2:p[1],stroke:'#333','stroke-width':1});
      
      
    });
    const lab=make(g,'text',{x:x,y:box.b+26,'text-anchor':'middle','font-size':24});
    
    
    lab.textContent=lon+'°W';
  });
  latTicks.forEach(lat=>{
    const y=axisY(box,lat);
    [[box.l,box.l+7],[box.r,box.r-7]].forEach(p=>{
      const t=make(g,'line',{x1:p[0],x2:p[1],y1:y,y2:y,stroke:'#333','stroke-width':1});
      
      
    });
    const lab=make(g,'text',{x:box.l-7,y:y+9,'text-anchor':'end','font-size':24});
    
    
    lab.textContent=lat+'°S';
  });
}

function drawArrow(g,x,y,dx,dy,name){
  const len=Math.hypot(dx,dy)||1;
  const hl=Math.min(8.5,Math.max(1.5,len*0.4)),hw=Math.min(3.7,Math.max(1,len*0.2));
  const ux=dx/len,uy=dy/len;
  const tipx=x+dx,tipy=y+dy,bx=tipx-ux*hl,by=tipy-uy*hl;
  const shaft=make(g,'line',{x1:x,y1:y,x2:bx,y2:by,stroke:'#000','stroke-width':1.9});
  
  
  const head=make(g,'polygon',{points:tipx+','+tipy+' '+(bx-uy*hw)+','+(by+ux*hw)+' '+(bx+uy*hw)+','+(by-ux*hw),fill:'#000'});
  
  
}

function bubble(g,box,lon,lat,r,color,sw,fillBelow,name){
  const filled=r<=fillBelow;
  const c=make(g,'circle',{cx:axisX(box,lon),cy:axisY(box,lat),r:r,fill:filled?color:'none',stroke:filled?'none':color,'stroke-width':sw});
  
  
}

function colorbar(x0,x1,y0,y1,colors,tickIdx,name){
  const cb=document.getElementById('colorbars');
  const g=make(cb,'g',{});
  
  
  const w=(x1-x0)/colors.length;
  colors.forEach((c,i)=>{
    const r=make(g,'rect',{x:x0+i*w,y:y0,width:w,height:y1-y0,fill:c,stroke:'#222','stroke-width':0.7});
    
    
  });
  tickIdx.forEach(i=>{
    const t=make(g,'line',{x1:x0+i*w,x2:x0+i*w,y1:y0,y2:y0-8,stroke:'#333','stroke-width':1});
    
    
  });
}

// ---------- build panels ----------
const panelsRoot=document.getElementById('panels');
function newPanel(pid){
  const g=make(panelsRoot,'g',{});
  
  
  drawBase(g,panelBoxes[pid],pid);
  return g;
}

// Panel A
{
  const g=newPanel('a');const box=panelBoxes.a;
  drawTrack(g,box,dayValues,jetColor,8.5);
  stationLon.forEach((lon,i)=>{
    const n=i+1;
    const c=make(g,'circle',{cx:axisX(box,lon),cy:axisY(box,stationLat[i]),r:12,fill:'none',stroke:jetColor(stationDay[i]),'stroke-width':1.1});
    
    
    const lab=make(g,'text',{x:axisX(box,lon)+(n<10?5:14),y:axisY(box,stationLat[i])+9,'text-anchor':'middle','font-size':25});
    
    
    lab.textContent=n;
  });
  drawFrame(g,box);
}
// Panel B
{
  const g=newPanel('b');const box=panelBoxes.b;
  drawTrack(g,box,airSeaValues,airSeaColor,10.5);
  drawFrame(g,box);
}
// Panel C
{
  const g=newPanel('c');const box=panelBoxes.c;
  drawTrack(g,box,salinityValues,salinityColor,9.5);
  sampledStations.forEach((st,i)=>{
    const r=Math.max(3,4.56*Math.pow(turbidity[i],0.6));
    bubble(g,box,stationLon[st-1],stationLat[st-1],r,'#84f52a',3.5,3,'turbidity-bubble');
  });
  drawFrame(g,box);
}
// Panel D
{
  const g=newPanel('d');const box=panelBoxes.d;
  drawTrack(g,box,thetaValues,thetaColor,10.5);
  const arrowScale=43;
  velocityRows.forEach(row=>{
    drawArrow(g,axisX(box,row[0]),axisY(box,row[1]),row[2]*arrowScale,-row[3]*arrowScale,'velocity-arrow');
  });
  drawFrame(g,box);
  const key=document.getElementById('velocity-key');
  drawArrow(key,1227,1032,1.0*arrowScale,0,'velocity-key-1');
  drawArrow(key,1227,1066,0.5*arrowScale,0,'velocity-key-05');
  drawArrow(key,1227,1099,0.14*arrowScale,0,'velocity-key-01');
}
// Panel E
{
  const g=newPanel('e');const box=panelBoxes.e;
  drawTrack(g,box,fluorValues,fluorColor,9.5);
  sampledStations.forEach((st,i)=>{
    const r=Math.max(3,14.9*Math.pow(chlorophyll[i],0.419));
    bubble(g,box,stationLon[st-1],stationLat[st-1],r,'#84f52a',3.2,0,'chlorophyll-bubble');
  });
  drawFrame(g,box);
}
// Panel F
{
  const g=newPanel('f');const box=panelBoxes.f;
  sampledStations.forEach((st,i)=>{
    const lon=stationLon[st-1],lat=stationLat[st-1];
    bubble(g,box,lon-0.1,lat-0.1,17.6*Math.pow(nitrite[i],0.3),'#b5ab1e',3,2.5,'nitrite-bubble');
    bubble(g,box,lon,lat,Math.max(2,12.5*Math.pow(phosphate[i],0.3)),'#e01010',3,3,'phosphate-bubble');
    bubble(g,box,lon+0.1,lat+0.1,Math.max(1.5,7.6*Math.pow(nitrate[i],0.39)),'#1414f0',3,3.2,'nitrate-bubble');
  });
  drawFrame(g,box);
}

// Colorbars
{
  const dayCells=[];
  for(let i=0;i<32;i++){dayCells.push(jetColor(30-i*30/31));}
  const cb=document.getElementById('colorbars');
  const h=(553-284)/dayCells.length;
  dayCells.forEach((c,i)=>{
    const r=make(cb,'rect',{x:293.5,y:284+i*h,width:28.5,height:h+0.4,fill:c});
    
    
  });
  colorbar(1168,1453,91,113,airSeaColors,[3,8,13],'air-sea-colorbar');
  colorbar(176,502,682,702,salinityColors,[0,2,4,6,8,10,12,14,16,18],'salinity-colorbar');
  colorbar(1173,1457,690,712,thetaColors,[0,5,10,15],'theta-colorbar');
  colorbar(214,458,1295,1316,fluorColors,[0,5,10],'fluorescence-colorbar');
}

// Wind rose
{
  const rose=document.getElementById('rose');
  const cx=1222,cy=440,pct=4.4;
  const ring=make(rose,'circle',{cx:cx,cy:cy,r:110,fill:'none',stroke:'#222','stroke-width':1});
  
  
  const inner=make(rose,'circle',{cx:cx,cy:cy,r:58,fill:'none',stroke:'#222','stroke-width':1,'stroke-dasharray':'1.5 3'});
  
  
  function wedge(dirIdx,r,fill,stroke,name){
    const c=dirIdx*22.5,a0=(c-11.25-90)*Math.PI/180,a1=(c+11.25-90)*Math.PI/180;
    const d='M'+cx+' '+cy+'L'+(cx+r*Math.cos(a0))+' '+(cy+r*Math.sin(a0))+'A'+r+' '+r+' 0 0 1 '+(cx+r*Math.cos(a1))+' '+(cy+r*Math.sin(a1))+'Z';
    const w=make(rose,'path',{d:d,fill:fill,stroke:stroke,'stroke-width':0.6});
    
    
  }
  roseTo20.forEach((v,i)=>wedge(i,v*pct,'#f5c92e','#8a8a50','wind-wedge-15-20'));
  roseTo15.forEach((v,i)=>wedge(i,v*pct,'#78d5ff','#5a9ab0','wind-wedge-10-15'));
  roseBelow5.forEach((v,i)=>wedge(i,v*pct,'#00007f','#00005a','wind-wedge-5'));
  const hole=make(rose,'circle',{cx:cx,cy:cy,r:6,fill:'#fff'});
  
  
  [[cx,cy-110,cx,cy+110],[cx-110,cy,cx+110,cy]].forEach(p=>{
    const l=make(rose,'line',{x1:p[0],y1:p[1],x2:p[2],y2:p[3],stroke:'#222','stroke-width':1,'stroke-dasharray':'1.5 3'});
    
    
  });
}
</script>
</body>
</html>
